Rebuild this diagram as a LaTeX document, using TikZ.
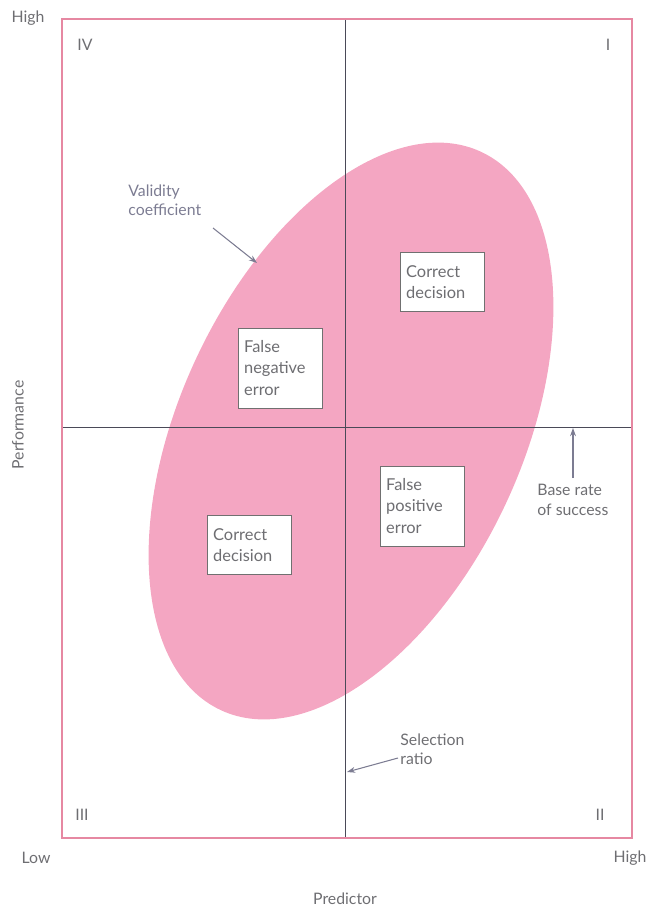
\documentclass[tikz,border=0pt]{standalone}
\usepackage{fontspec}
\setmainfont{Lato}
\usetikzlibrary{arrows.meta,shadows}
\definecolor{framepink}{HTML}{E688A2}
\definecolor{ellpink}{HTML}{F4A6C2}
\definecolor{axisgray}{HTML}{4A4A58}
\definecolor{txtgray}{HTML}{6E6E72}
\definecolor{bluegray}{HTML}{7C7C92}
\definecolor{boxedge}{HTML}{707070}
\begin{document}
\begin{tikzpicture}[x=0.03cm,y=-0.03cm,
  lbl/.style={font=\fontsize{13.5pt}{17pt}\selectfont, text=txtgray, inner sep=1pt},
  blbl/.style={lbl, text=bluegray, align=left},
  decbox/.style={draw=boxedge, fill=white, line width=0.7pt, minimum width=2.52cm, minimum height=1.75cm, align=left, text width=2.15cm, font=\fontsize{14pt}{18pt}\selectfont, text=txtgray, drop shadow={shadow xshift=0.6pt, shadow yshift=-0.6pt, fill=black!35, opacity=0.5}},
  ptr/.style={draw=bluegray, line width=0.9pt, -{Stealth[length=7pt,width=5pt]}},
  axisline/.style={draw=axisgray, line width=0.7pt}]
\useasboundingbox (0,0) rectangle (649,911);
% ellipse
\fill[ellpink] (351,431) ellipse[x radius=308, y radius=171, rotate=65];
% axes
\draw[axisline] (345,19) -- (345,838);
\draw[axisline] (62,427) -- (632,427);
% frame
\draw[framepink, line width=1.8pt] (62,19) rectangle (632,838);
% boxes
\node[decbox] (cd1) at (442,282) {Correct\\decision};
\node[decbox, minimum height=2.4cm] (fne) at (280,368) {False\\negative\\error};
\node[decbox, minimum height=2.4cm] (fpe) at (422,506) {False\\positive\\error};
\node[decbox] (cd2) at (249,545) {Correct\\decision};
% quadrant numerals
\node[lbl] (q4) at (85,45) {IV};
\node[lbl] (q1) at (608,45) {I};
\node[lbl] (q3) at (82,815) {III};
\node[lbl] (q2) at (600,815) {II};
% axis labels
\node[lbl] (hy) at (28,18) {High};
\node[lbl] (lowx) at (36,858) {Low};
\node[lbl] (hx) at (630,858) {High};
\node[lbl] (pred) at (345,899) {Predictor};
\node[lbl, rotate=90] (perf) at (18,425) {Performance};
% annotations
\node[blbl, anchor=north west] (val) at (127,183) {Validity\\coefficient};
\coordinate (valtip) at (257,263);
\coordinate (valst) at (213,228);
\draw[ptr] (valst) -- (valtip);
\node[lbl, align=left, anchor=north west] (base) at (536,483) {Base rate\\of success};
\coordinate (basest) at (573,478);
\coordinate (basetip) at (573,428);
\draw[ptr] (basest) -- (basetip);
\node[lbl, align=left, anchor=north west] (sel) at (399,732) {Selection\\ratio};
\coordinate (selst) at (398,758);
\coordinate (seltip) at (347,772);
\draw[ptr] (selst) -- (seltip);
\end{tikzpicture}
\end{document}
